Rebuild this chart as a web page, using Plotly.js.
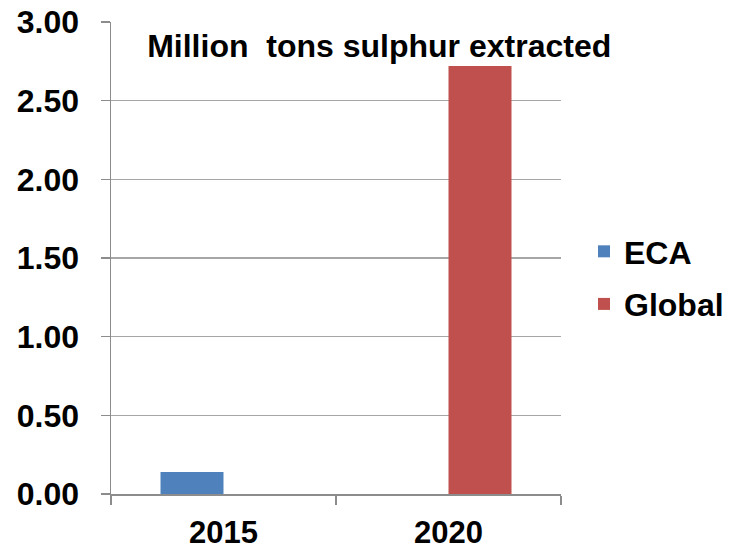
<!DOCTYPE html>
<html>
<head>
<meta charset="utf-8">
<script src="https://cdn.plot.ly/plotly-3.0.1.min.js"></script>
<style>html,body{margin:0;padding:0;background:#fff;}#chart{width:733px;height:552px;}</style>
</head>
<body>
<div id="chart"></div>
<script>
const categories = ['2015', '2020'];
const ecaValues = [0.14, null];
const globalValues = [null, 2.72];
const yTickVals = [0, 0.5, 1, 1.5, 2, 2.5, 3];
const chartTitle = 'Million  tons sulphur extracted';

const FONT = 'Liberation Sans, Arial, sans-serif';

const data = [
  { type: 'bar', name: 'ECA', x: categories, y: ecaValues, marker: { color: '#4F81BD' }, legendgroup: 'a', hoverinfo: 'skip' },
  { type: 'bar', name: 'Global', x: categories, y: globalValues, marker: { color: '#C0504D' }, legendgroup: 'b', hoverinfo: 'skip' }
];

const layout = {
  width: 733, height: 552,
  margin: { l: 111, r: 172, t: 22, b: 58, autoexpand: false },
  paper_bgcolor: '#ffffff', plot_bgcolor: '#ffffff',
  barmode: 'group', bargap: 0.44, bargroupgap: 0,
  font: { family: FONT, color: '#000000' },
  title: {
    text: '<b>' + chartTitle + '</b>',
    font: { family: FONT, size: 32, color: '#000000', weight: 'bold' },
    xref: 'paper', x: 0.596, xanchor: 'center',
    yref: 'container', y: 1 - 46 / 552, yanchor: 'middle'
  },
  xaxis: {
    type: 'category',
    tickson: 'boundaries', ticks: 'outside', ticklen: 9, tickcolor: '#8c8c8c', tickwidth: 1.5,
    showline: true, linecolor: '#8c8c8c', linewidth: 1.5,
    showgrid: false, zeroline: false,
    ticklabelstandoff: 10,
    tickfont: { family: FONT, size: 31, color: '#000000', weight: 'bold' },
    fixedrange: true
  },
  yaxis: {
    range: [0, 3], tickvals: yTickVals, tickformat: '.2f',
    ticks: 'outside', ticklen: 9, tickcolor: '#8c8c8c', tickwidth: 1.5,
    showline: true, linecolor: '#8c8c8c', linewidth: 1.5,
    showgrid: true, gridcolor: '#a6a6a6', gridwidth: 1.5,
    zeroline: false,
    ticklabelstandoff: 15,
    tickfont: { family: FONT, size: 32, color: '#000000', weight: 'bold' },
    fixedrange: true
  },
  showlegend: true,
  legend: {
    x: (584 - 111) / 450, xanchor: 'left',
    y: 0.572, yanchor: 'top',
    font: { family: FONT, size: 32, color: '#000000', weight: 'bold' },
    traceorder: 'grouped', tracegroupgap: 8,
    bgcolor: 'rgba(0,0,0,0)', borderwidth: 0,
    itemwidth: 30
  }
};

Plotly.newPlot('chart', data, layout, { displayModeBar: false, staticPlot: true });
</script>
</body>
</html>
